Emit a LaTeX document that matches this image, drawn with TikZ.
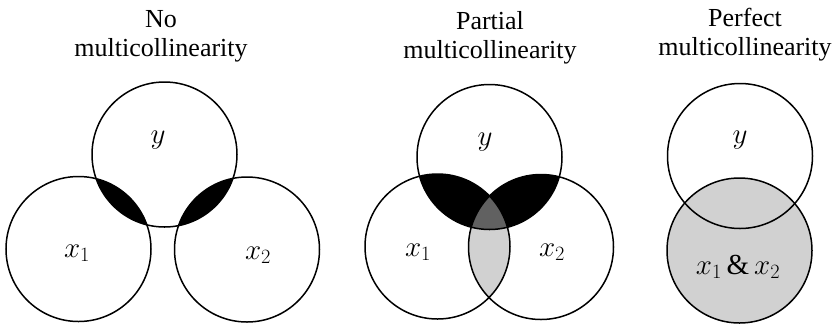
\RequirePackage{fix-cm}
\documentclass[tikz,border=0pt]{standalone}
\usepackage{fontspec}
\setmainfont{Liberation Serif}
\begin{document}
\begin{tikzpicture}[x=1pt,y=-1pt,
  ring/.style={draw=black,line width=1.5pt},
  title/.style={anchor=north,inner sep=0pt,align=center,font=\fontsize{26}{29}\selectfont},
  var/.style={inner sep=0pt,font=\fontsize{29}{33}\selectfont}]
\useasboundingbox[fill=white] (0,0) rectangle (833,325);
\def\R{72.5}
% coordinates
\coordinate (Ya) at (164.5,154.5);
\coordinate (Xa) at (78.5,249);
\coordinate (Xb) at (247,249.5);
\coordinate (Yb) at (489.5,157);
\coordinate (Xc) at (437.5,246.5);
\coordinate (Xd) at (541,247);
\coordinate (Yc) at (740,156);
\coordinate (Xe) at (739.5,250.5);
% titles
\node[title] (t1) at (161,10) {No\\multicollinearity};
\node[title] (t2) at (490,11) {Partial\\multicollinearity};
\node[title] (t3) at (745,8) {Perfect\\multicollinearity};
% panel 1 fills
\begin{scope}
  \clip (Ya) circle (\R);
  \fill[black] (Xa) circle (\R);
  \fill[black] (Xb) circle (\R);
\end{scope}
% panel 2 fills
\begin{scope}
  \clip (Xc) circle (\R);
  \fill[black!18] (Xd) circle (\R);
\end{scope}
\begin{scope}
  \clip (Yb) circle (\R);
  \fill[black] (Xc) circle (\R);
  \fill[black] (Xd) circle (\R);
\end{scope}
\begin{scope}
  \clip (Yb) circle (\R);
  \clip (Xc) circle (\R);
  \fill[black!62] (Xd) circle (\R);
\end{scope}
% panel 3 fill
\fill[black!18] (Xe) circle (\R);
% outlines
\draw[ring] (Ya) circle (\R);
\draw[ring] (Xa) circle (\R);
\draw[ring] (Xb) circle (\R);
\draw[ring] (Yb) circle (\R);
\draw[ring] (Xc) circle (\R);
\draw[ring] (Xd) circle (\R);
\draw[ring] (Yc) circle (\R);
\draw[ring] (Xe) circle (\R);
% labels
\node[var] (ly1) at (158,140) {$y$};
\node[var] (lx1) at (77,253) {$x_1$};
\node[var] (lx2) at (258,255) {$x_2$};
\node[var] (ly2) at (485,142) {$y$};
\node[var] (lx3) at (418,252) {$x_1$};
\node[var] (lx4) at (552,252) {$x_2$};
\node[var] (ly3) at (740,140) {$y$};
\node[var] (lx5) at (738,267) {$x_1\,\&\,x_2$};
\end{tikzpicture}
\end{document}
